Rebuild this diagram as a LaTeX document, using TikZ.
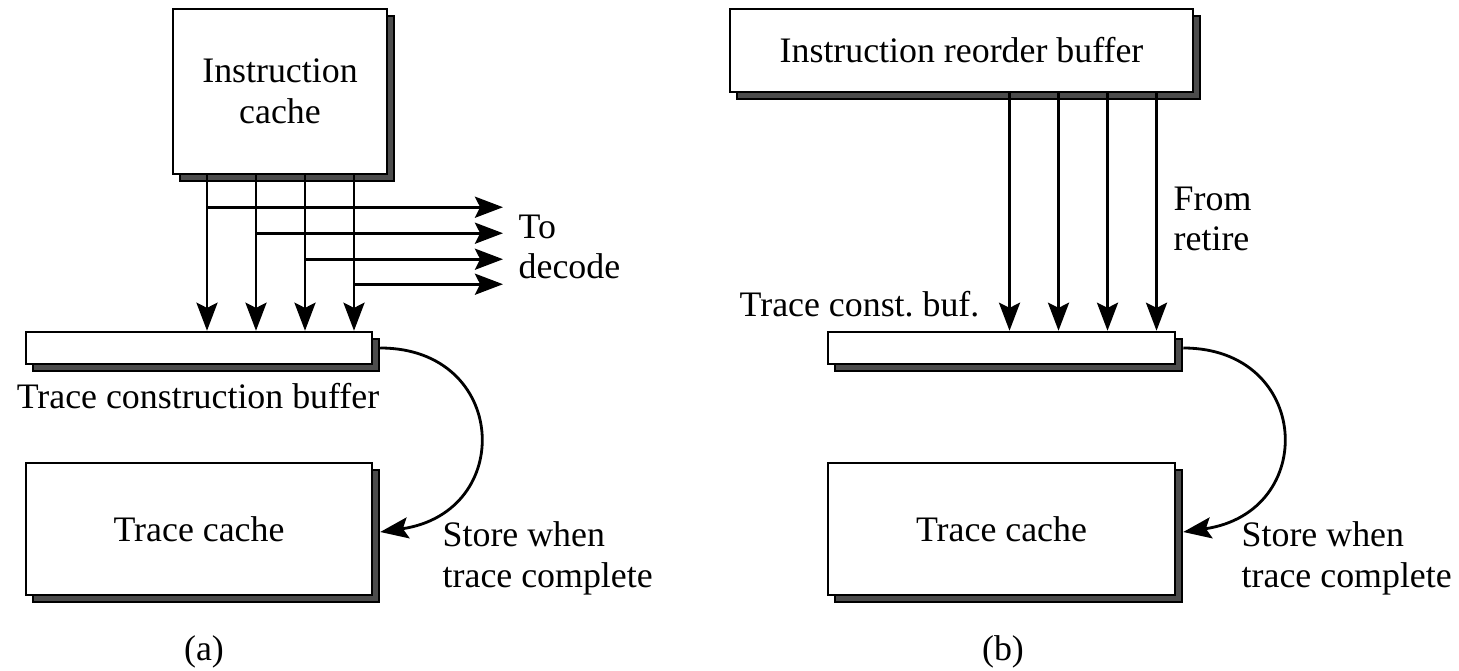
\documentclass[tikz,border=0pt]{standalone}
\usepackage{fontspec}
\setmainfont{Liberation Serif}
\usetikzlibrary{arrows.meta,calc,shadows}
\tikzset{
  unitbox/.style={draw,fill=white,line width=0.7pt,inner sep=0pt,
    general shadow={shadow xshift=0.07cm,shadow yshift=-0.07cm,
      fill=gray!60!black,draw=black,line width=0.7pt}},
  flowarrow/.style={line width=0.8pt,-{Stealth[length=8pt,width=6pt,inset=1.5pt]}},
  caption/.style={inner sep=0pt,align=left}
}

\begin{document}
\begin{tikzpicture}[font=\fontsize{10.2}{11.6}\selectfont]
  \useasboundingbox (0,0) rectangle (14.59,6.70);
  % Teil (a): Aufbau aus dem Befehlscache
  \node[unitbox,minimum width=2.14cm,minimum height=1.65cm,align=center] (icacheA) at (2.80,5.785) {Instruction\\cache};
  \node[unitbox,minimum width=3.46cm,minimum height=0.32cm] (tcbA) at (1.99,3.22) {};
  \node[unitbox,minimum width=3.46cm,minimum height=1.32cm] (tcA) at (1.99,1.41) {Trace cache};
  \node[anchor=base,inner sep=0pt] (tcbAlabel) at (1.98,2.61) {Trace construction buffer};
  \node[caption,anchor=west,inner xsep=0.15cm] (decode) at (5.03,4.23) {To\\decode};
  \node[caption,anchor=west] (storeA) at (4.42,1.12) {Store when\\trace complete};
  \node[anchor=base,inner sep=0pt] (capA) at (2.04,0.10) {(a)};
  % vier Leitungen, jede zweigt nach rechts zum Decoder ab
  \foreach \dx/\dy in {0.08/0.32,0.57/0.58,1.06/0.84,1.55/1.09}{
    \coordinate (o) at ([xshift=\dx cm]tcbA.north);
    \draw[flowarrow] (o |- icacheA.south) -- (o);
    \coordinate (ab) at ($(o |- icacheA.south)+(0,-\dy)$);
    \draw[flowarrow] (ab) -- (ab -| decode.west);
  }
  \draw[flowarrow] ([xshift=0.07cm]tcbA.east) .. controls +(1.28,0) and +(1.36,0.2) .. ([xshift=0.07cm,yshift=-0.03cm]tcA.east);

  % Teil (b): Aufbau aus dem Reorder-Buffer
  \node[unitbox,minimum width=4.63cm,minimum height=0.83cm] (robB) at (9.615,6.195) {Instruction reorder buffer};
  \node[unitbox,minimum width=3.47cm,minimum height=0.32cm] (tcbB) at (10.015,3.22) {};
  \node[unitbox,minimum width=3.47cm,minimum height=1.32cm] (tcB) at (10.015,1.41) {Trace cache};
  \node[anchor=base west,inner sep=0pt] (tcbBlabel) at (7.39,3.53) {Trace const.\ buf.};
  \node[caption,anchor=west] (retire) at (11.73,4.51) {From\\retire};
  \node[caption,anchor=west] (storeB) at (12.41,1.12) {Store when\\trace complete};
  \node[anchor=base,inner sep=0pt] (capB) at (10.03,0.10) {(b)};
  \foreach \dx in {0.08,0.57,1.06,1.55}{
    \coordinate (o) at ([xshift=\dx cm]tcbB.north);
    \draw[flowarrow] (o |- robB.south) -- (o);
  }
  \draw[flowarrow] ([xshift=0.07cm]tcbB.east) .. controls +(1.28,0) and +(1.36,0.2) .. ([xshift=0.07cm,yshift=-0.03cm]tcB.east);
\end{tikzpicture}
\end{document}
